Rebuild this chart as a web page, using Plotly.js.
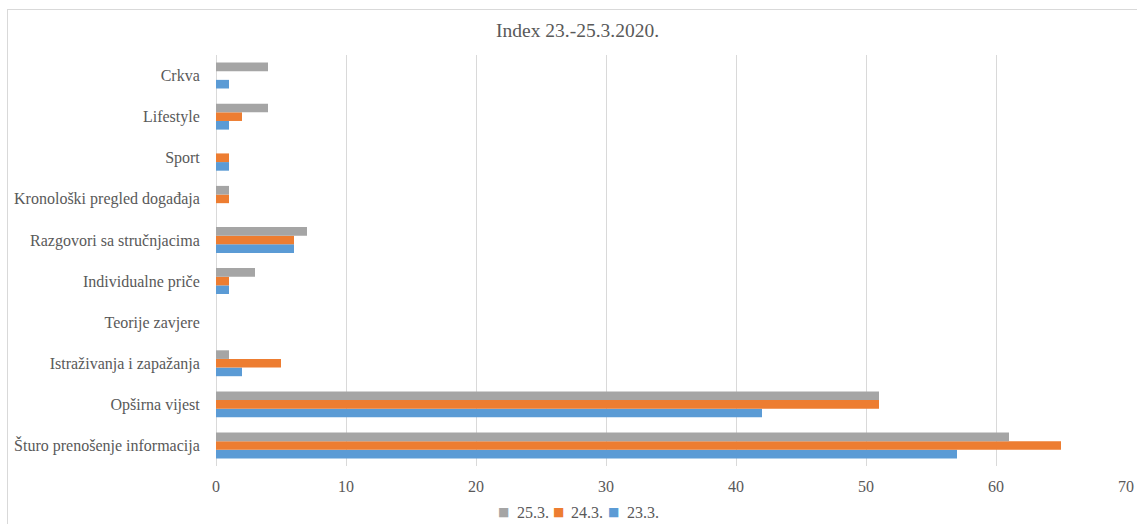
<!DOCTYPE html>
<html>
<head>
<meta charset="utf-8">
<script src="https://cdn.plot.ly/plotly-3.0.1.min.js"></script>
<style>
html,body{margin:0;padding:0;background:#fff;}
#wrap{position:relative;width:1137px;height:524px;overflow:hidden;}
#chart{position:absolute;left:0;top:0;width:1137px;height:524px;}
#frame{position:absolute;left:7px;top:9px;width:1140px;height:520px;border:1px solid #d9d9d9;pointer-events:none;}
</style>
</head>
<body>
<div id="wrap"><div id="chart"></div><div id="frame"></div></div>
<script>
const categories = [
  "Šturo prenošenje informacija",
  "Opširna vijest",
  "Istraživanja i zapažanja",
  "Teorije zavjere",
  "Individualne priče",
  "Razgovori sa stručnjacima",
  "Kronološki pregled događaja",
  "Sport",
  "Lifestyle",
  "Crkva"
];
const seriesNames = ["23.3.", "24.3.", "25.3."];
const values23 = [57, 42, 2, 0, 1, 6, 0, 1, 1, 1];
const values24 = [65, 51, 5, 0, 1, 6, 1, 1, 2, 0];
const values25 = [61, 51, 1, 0, 3, 7, 1, 0, 4, 4];
const colors = ["#5B9BD5", "#ED7D31", "#A5A5A5"];
const allValues = [values23, values24, values25];

const traces = allValues.map((v, i) => ({
  type: "bar",
  orientation: "h",
  name: seriesNames[i],
  y: categories,
  x: v,
  marker: {color: colors[i]},
  hoverinfo: "x+name"
}));

const font = {family: "Liberation Serif", color: "#595959"};

// legend drawn as annotations (reversed order like the reference)
const legendSq = [0.3264, 0.3868, 0.4473];
const legendTx = [0.3286, 0.3879, 0.4495];
const legendAnn = [];
[2, 1, 0].forEach((idx, k) => {
  legendAnn.push({
    xref: "paper", yref: "paper",
    x: legendSq[k] - 0.0105, y: -0.113,
    xanchor: "center", yanchor: "middle",
    showarrow: false,
    text: "■",
    font: {family: "DejaVu Sans", size: 12, color: colors[idx]}
  });
  legendAnn.push({
    xref: "paper", yref: "paper",
    x: legendTx[k], y: -0.113,
    xanchor: "left", yanchor: "middle",
    showarrow: false,
    text: seriesNames[idx],
    font: Object.assign({}, font, {size: 16})
  });
});

Plotly.newPlot("chart", traces, {
  width: 1137,
  height: 524,
  paper_bgcolor: "#fff",
  plot_bgcolor: "#fff",
  margin: {l: 216, r: 11, t: 55, b: 58},
  barmode: "group",
  bargap: 0.37,
  bargroupgap: 0,
  font: Object.assign({size: 16}, font),
  title: {text: "Index 23.-25.3.2020.", x: 0.508, xanchor: "center", y: 0.943, yanchor: "middle",
          font: Object.assign({}, font, {size: 19.5})},
  xaxis: {
    range: [0, 70],
    dtick: 10,
    showgrid: true,
    gridcolor: "#d9d9d9",
    gridwidth: 1,
    zeroline: true,
    zerolinecolor: "#d9d9d9",
    showline: false,
    ticks: "outside",
    ticklen: 6,
    tickcolor: "rgba(0,0,0,0)",
    tickfont: Object.assign({}, font, {size: 16})
  },
  yaxis: {
    type: "category",
    categoryorder: "array",
    categoryarray: categories,
    showgrid: false,
    zeroline: false,
    showline: false,
    ticks: "outside",
    ticklen: 12,
    tickcolor: "rgba(0,0,0,0)",
    tickfont: Object.assign({}, font, {size: 16}),
    automargin: false
  },
  annotations: legendAnn,
  showlegend: false
}, {displayModeBar: false, staticPlot: true});
</script>
</body>
</html>
